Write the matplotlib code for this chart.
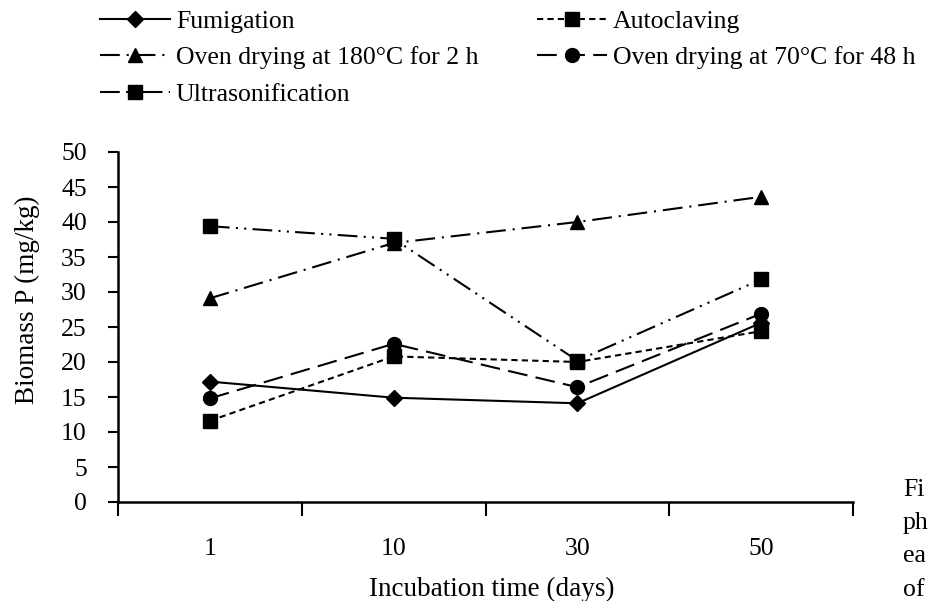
#biomass P versus incubation time for five treatments
import numpy as np
import matplotlib
matplotlib.use('Agg')
import matplotlib.pyplot as plt

plt.rc('font', family='Liberation Serif')

days = ['1', '10', '30', '50']
fumigation = [17.2, 14.9, 14.1, 25.6]
autoclaving = [11.6, 20.8, 20.0, 24.4]
oven180 = [29.1, 37.0, 40.0, 43.6]
oven70 = [14.8, 22.6, 16.4, 26.9]
ultrasonic = [39.4, 37.6, 20.2, 31.8]

fig = plt.figure(figsize=(9.30, 6.01), dpi=100)
ax = fig.add_axes([118/930, 1-502/601, (853-118)/930, (502-152)/601])

x = np.arange(len(days))
lw = 1.5
h1, = ax.plot(x, fumigation, color='black', lw=lw, ls='-', marker='D', ms=8)
h2, = ax.plot(x, autoclaving, color='black', lw=lw, ls=(0, (3, 2)), marker='s', ms=9.5)
h3, = ax.plot(x, oven180, color='black', lw=lw, ls=(0, (9.5, 3.3, 1, 3.3)), marker='^', ms=10)
h4, = ax.plot(x, oven70, color='black', lw=lw, ls=(0, (9.5, 4)), marker='o', ms=10)
h5, = ax.plot(x, ultrasonic, color='black', lw=lw, ls=(0, (9.5, 3, 1, 3, 1, 3)), marker='s', ms=9.5)

ax.set_xlim(-0.5, 3.5)
ax.set_ylim(0, 50)
ax.set_yticks(np.arange(0, 51, 5))
ax.set_xticks(np.arange(-0.5, 3.6, 1))
ax.set_xticklabels([])
ax.set_xticks(x, minor=True)
ax.set_xticklabels(days, minor=True)
ax.tick_params(axis='x', which='major', direction='out', length=10, width=1.5)
ax.tick_params(axis='x', which='minor', length=0, pad=26, labelsize=18.5)
ax.tick_params(axis='y', direction='out', length=7, width=1.5, pad=15.5, labelsize=18.5)

for s in ['top', 'right']:
    ax.spines[s].set_visible(False)
for s in ['left', 'bottom']:
    ax.spines[s].set_linewidth(1.8)

ax.set_xlabel('Incubation time (days)', fontsize=19.5)
ax.xaxis.set_label_coords((492-118)/(853-118), (502-577)/350, transform=ax.transAxes)
ax.set_ylabel('Biomass P (mg/kg)', fontsize=19.5)
ax.yaxis.set_label_coords((40-118)/(853-118), (502-300)/350, transform=ax.transAxes)

handles = [h1, h3, h5, h2, h4]
labels = ['Fumigation', 'Oven drying at 180°C for 2 h', 'Ultrasonification',
          'Autoclaving', 'Oven drying at 70°C for 48 h']
fig.legend(handles, labels, loc='upper left', bbox_to_anchor=(100/930, 1-10/601),
           ncol=2, frameon=False, fontsize=18.5, handlelength=2.72, handletextpad=0.23,
           labelspacing=0.52, columnspacing=2.3, borderpad=0, borderaxespad=0)

#cut-off caption at right edge
for t, yy in zip(['Fi', 'ph', 'ea', 'of'], [490, 523, 556, 590]):
    fig.text(903/930, 1-yy/601, t, fontsize=18.5, va='center', ha='left')

fig.savefig('out.png', dpi=100)
